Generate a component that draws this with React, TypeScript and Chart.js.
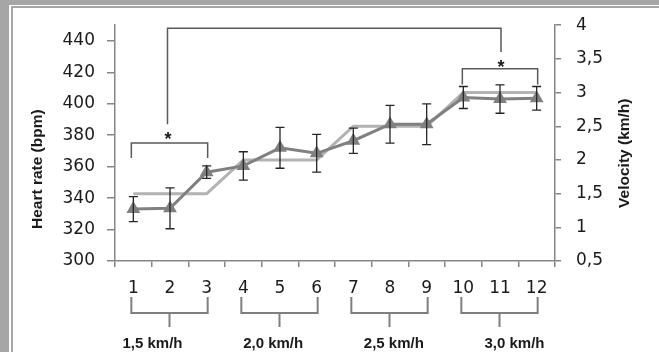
import React, { useEffect, useRef } from "react";
import { Chart, registerables } from "chart.js";

Chart.register(...registerables);

const categories = ["1", "2", "3", "4", "5", "6", "7", "8", "9", "10", "11", "12"];
const heartRate = [333, 333.5, 356.5, 360.5, 372, 368.5, 376.5, 387, 387, 404, 403, 403.5];
const heartRateError = [8, 13, 4, 9, 13, 12, 8, 12, 13, 7, 9, 7.5];
const velocity = [1.5, 1.5, 1.5, 2, 2, 2, 2.5, 2.5, 2.5, 3, 3, 3];
const groupLabels = ["1,5 km/h", "2,0 km/h", "2,5 km/h", "3,0 km/h"];
const leftTitle = "Heart rate (bpm)";
const rightTitle = "Velocity (km/h)";

const errorBarPlugin = {
  id: "errorBars",
  afterDatasetsDraw(chart: any) {
    const ctx = chart.ctx;
    const x = chart.scales.x;
    const y = chart.scales.y;
    ctx.save();
    ctx.strokeStyle = "#262626";
    ctx.lineWidth = 1.3;
    heartRate.forEach((v, i) => {
      const px = x.getPixelForValue(i);
      const top = y.getPixelForValue(v + heartRateError[i]);
      const bot = y.getPixelForValue(v - heartRateError[i]);
      ctx.beginPath();
      ctx.moveTo(px, top);
      ctx.lineTo(px, bot);
      ctx.moveTo(px - 4.5, top);
      ctx.lineTo(px + 4.5, top);
      ctx.moveTo(px - 4.5, bot);
      ctx.lineTo(px + 4.5, bot);
      ctx.stroke();
    });
    ctx.restore();
  },
};

const annotationPlugin = {
  id: "annotations",
  afterDraw(chart: any) {
    const ctx = chart.ctx;
    const x = chart.scales.x;
    const y = chart.scales.y;
    const area = chart.chartArea;
    const px = (i: number) => x.getPixelForValue(i);
    const py = (v: number) => y.getPixelForValue(v);
    ctx.save();
    // significance brackets
    ctx.strokeStyle = "#595959";
    ctx.lineWidth = 1.5;
    ctx.beginPath();
    ctx.moveTo(px(0) - 2, py(365.5));
    ctx.lineTo(px(0) - 2, py(375));
    ctx.lineTo(px(2) + 1, py(375));
    ctx.lineTo(px(2) + 1, py(365.5));
    ctx.moveTo(px(9) - 1, py(412.2));
    ctx.lineTo(px(9) - 1, py(422.3));
    ctx.lineTo(px(11) + 1, py(422.3));
    ctx.lineTo(px(11) + 1, py(412.2));
    ctx.moveTo(px(1) - 2.5, py(387));
    ctx.lineTo(px(1) - 2.5, py(448));
    ctx.lineTo(px(10) + 1, py(448));
    ctx.lineTo(px(10) + 1, py(433));
    ctx.stroke();
    ctx.fillStyle = "#1a1a1a";
    ctx.font = "bold 18px 'Liberation Sans'";
    ctx.textAlign = "center";
    ctx.textBaseline = "alphabetic";
    ctx.fillText("*", px(1) - 2, py(380.7) + 11);
    ctx.fillText("*", px(10) + 1, py(426.7) + 11);

    // group brackets below the axis
    ctx.strokeStyle = "#7f7f7f";
    ctx.lineWidth = 2;
    const b = area.bottom;
    const groups = [[0, 2], [3, 5], [6, 8], [9, 11]];
    ctx.beginPath();
    groups.forEach(([s, e]) => {
      const x0 = px(s) - 2;
      const x1 = px(e) + 1;
      const xm = (x0 + x1) / 2;
      ctx.moveTo(x0, b + 36);
      ctx.lineTo(x0, b + 52);
      ctx.lineTo(x1, b + 52);
      ctx.lineTo(x1, b + 36);
      ctx.moveTo(xm, b + 52);
      ctx.lineTo(xm, b + 66);
    });
    ctx.stroke();

    // group labels
    ctx.fillStyle = "#1a1a1a";
    ctx.font = "bold 15px 'Liberation Sans'";
    ctx.textBaseline = "middle";
    const w = (area.right - area.left) / 4;
    groupLabels.forEach((t, i) => {
      ctx.fillText(t, area.left + 37.5 + i * w * 1.097, b + 83);
    });

    // axis titles (rotated)
    const drawTitle = (t: string, cx: number, cy: number, size: number) => {
      ctx.save();
      ctx.translate(cx, cy);
      ctx.rotate(-Math.PI / 2);
      ctx.font = `bold ${size}px 'Liberation Sans'`;
      ctx.textAlign = "center";
      ctx.textBaseline = "middle";
      ctx.fillStyle = "#1a1a1a";
      ctx.fillText(t, 0, 0);
      ctx.restore();
    };
    drawTitle(leftTitle, 38, area.top + 144, 15.5);
    drawTitle(rightTitle, 624.5, area.top + 128, 15.5);
    ctx.restore();
  },
};

export default function App() {
  const ref = useRef<HTMLCanvasElement | null>(null);
  useEffect(() => {
    if (!ref.current) return;
    const tickFont = { family: "'DejaVu Sans'", size: 17 };
    const chart = new Chart(ref.current, {
      type: "line",
      data: {
        labels: categories,
        datasets: [
          {
            label: "Heart rate",
            data: heartRate,
            yAxisID: "y",
            borderColor: "#808080",
            backgroundColor: "#808080",
            borderWidth: 3,
            pointStyle: "triangle",
            pointRadius: 5,
            pointBackgroundColor: "#808080",
            pointBorderColor: "#808080",
            tension: 0,
          },
          {
            label: "Velocity",
            data: velocity,
            yAxisID: "y1",
            borderColor: "#b3b3b3",
            backgroundColor: "#b3b3b3",
            borderWidth: 3,
            pointRadius: 0,
            tension: 0,
          },
        ],
      },
      options: {
        animation: false,
        responsive: false,
        devicePixelRatio: 1,
        layout: { padding: { top: 23, left: 0, right: 0, bottom: 0 } },
        plugins: { legend: { display: false }, tooltip: { enabled: false } },
        scales: {
          x: {
            type: "category",
            offset: true,
            grid: { offset: true, drawOnChartArea: false, color: "#868686", tickLength: 6, lineWidth: 1.5 },
            border: { color: "#868686", width: 1.5 },
            ticks: { font: tickFont, color: "#1a1a1a", padding: 11, maxRotation: 0, autoSkip: false },
            afterFit: (s: any) => { s.height = 91; },
          },
          y: {
            position: "left",
            min: 300,
            max: 450,
            grid: { drawOnChartArea: false, color: "#868686", tickLength: 8, lineWidth: 1.5 },
            border: { color: "#868686", width: 1.5 },
            ticks: { stepSize: 20, includeBounds: false, font: tickFont, color: "#1a1a1a", padding: 12 },
            afterFit: (s: any) => { s.width = 115; },
          },
          y1: {
            position: "right",
            min: 0.5,
            max: 4,
            grid: { drawOnChartArea: false, color: "#868686", tickLength: 6, lineWidth: 1.5 },
            border: { color: "#868686", width: 1.5 },
            ticks: {
              stepSize: 0.5,
              font: tickFont,
              color: "#1a1a1a",
              padding: 15,
              callback: (v: any) => String(v).replace(".", ","),
            },
            afterFit: (s: any) => { s.width = 104; },
          },
        },
      },
      plugins: [errorBarPlugin, annotationPlugin],
    } as any);
    return () => chart.destroy();
  }, []);

  return (
    <div style={{ position: "fixed", left: 0, top: 0, width: 659, height: 352, background: "#a6a6a6", overflow: "hidden" }}>
      <div style={{ position: "absolute", left: 9, top: 5, right: 0, bottom: 0, background: "#ffffff" }} />
      <div
        style={{
          position: "absolute",
          left: 11,
          top: 6,
          right: 0,
          bottom: 0,
          background: "#ffffff",
          borderLeft: "2px solid #a6a6a6",
          borderTop: "2px solid #a6a6a6",
        }}
      />
      <canvas ref={ref} width={659} height={352} style={{ position: "absolute", left: 0, top: 0, width: 659, height: 352 }} />
    </div>
  );
}
